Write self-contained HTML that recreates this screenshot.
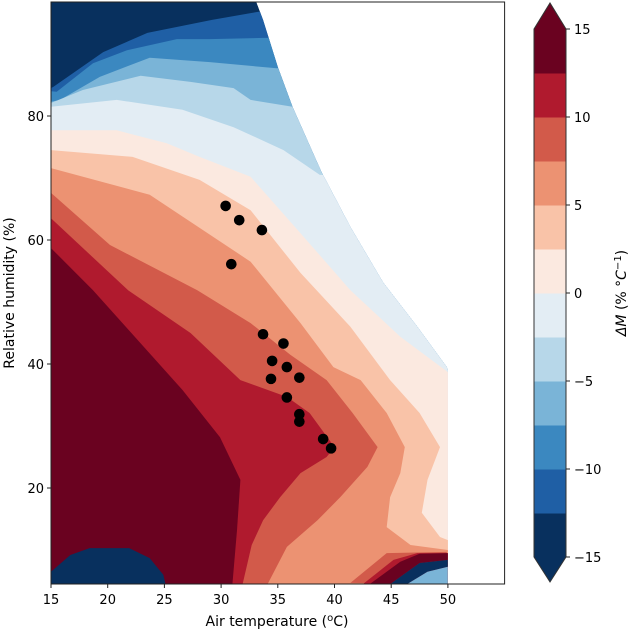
<!DOCTYPE html>
<html><head><meta charset="utf-8"><style>
html,body{margin:0;padding:0;background:#fff}
svg{display:block;font-family:"DejaVu Sans","Liberation Sans",sans-serif}
</style></head><body>
<svg id="chart" width="633" height="632" viewBox="0 0 633 632" xmlns="http://www.w3.org/2000/svg">
<defs><clipPath id="domclip"><path id="domclippath"/></clipPath></defs>
<g id="field" clip-path="url(#domclip)"></g>
<g id="extras" clip-path="url(#domclip)"></g>
<g id="dots"></g>
<rect x="51" y="2" width="453.6" height="582" fill="none" stroke="#222" stroke-width="1"/>
<g id="xaxis"></g>
<g id="yaxis"></g>
<text x="277" y="626" font-size="14" text-anchor="middle">Air temperature (<tspan baseline-shift="super" font-size="10">o</tspan>C)</text>
<text transform="translate(14,293) rotate(-90)" font-size="14" text-anchor="middle">Relative humidity (%)</text>
<g id="cbar"></g>
<text transform="translate(626,293) rotate(-90)" font-size="14" text-anchor="middle"><tspan font-style="italic">ΔM</tspan> (% °<tspan font-style="italic">C</tspan><tspan baseline-shift="super" font-size="10">−1</tspan>)</text>
</svg>
<script>
const levels = [-15,-12.5,-10,-7.5,-5,-2.5,0,2.5,5,7.5,10,12.5,15];
const levelColors = ["#08305e","#1f5fa5","#3b88c0","#7ab4d7","#b7d7e9","#e3edf4","#fbe9e0","#f9c3a8","#ec9272","#d25a4a","#b01a2e","#6a0220"];
const xTicks = [15,20,25,30,35,40,45,50];
const yTicks = [20,40,60,80];
const cbarTicks = [15,10,5,0,-5,-10,-15];
const domainEdge = [[33.1,98.4],[33.7,95.5],[35.0,87.9],[36.3,81.5],[38.5,72.4],[38.9,70.8],[41.4,62.1],[44.3,53.1],[47.3,46.0],[49.9,39.5],[50,39.0],[50,4.5],[15,4.5],[15,98.4]];
const contourM125 = [[15,84.5],[15.2,84.7],[19.6,90.3],[23.5,93.4],[29.2,95.5],[32.6,96.6],[33.3,96.8],[56,96.8]];
const contourM10 = [[15,84.0],[15.5,83.9],[18.7,88.5],[21.7,90.6],[26.1,92.4],[29.0,92.4],[33.7,92.6],[56,92.6]];
const contourM75 = [[15,82.3],[15.8,82.6],[19.3,86.3],[23.7,89.4],[29.0,88.7],[34.9,87.7],[56,87.7]];
const contourM5 = [[15,82.1],[17.8,84.2],[22.9,86.5],[27.3,85.5],[31.1,84.5],[32.6,82.6],[36.3,81.5],[56,81.5]];
const contourM25 = [[15,81.5],[20.8,82.6],[26.6,81.0],[31.1,78.2],[35.5,74.5],[38.7,70.5],[56,70.5]];
const contour0 = [[15,77.7],[20.8,77.7],[25.2,75.6],[28.1,73.4],[32.6,70.2],[37.0,61.1],[41.4,51.9],[45.8,44.4],[50,38.7],[56,38.7]];
const contour25 = [[15,74.5],[22.2,73.4],[28.1,69.7],[32.6,64.8],[37.0,54.7],[41.4,46.0],[44.9,37.4],[47.5,32.1],[49.3,26.6],[48.2,21.3],[47.7,16.0],[49.3,12.1],[50,11.6],[56,11.6]];
const contour5 = [[15,71.6],[23.7,67.3],[32.6,56.5],[37.0,46.6],[39.9,39.5],[42.3,37.4],[44.6,32.1],[46.2,26.6],[45.8,22.4],[44.9,18.5],[44.6,13.7],[46.7,10.8],[50,10.0],[56,10.0]];
const contour75 = [[15,67.6],[20.2,59.2],[27.9,51.9],[32.6,46.6],[36.1,41.5],[39.3,37.4],[41.6,32.1],[43.8,26.6],[42.9,23.4],[40.5,18.5],[38.5,14.8],[35.8,10.5],[34.1,4.5]];
const contour10 = [[15,63.5],[21.8,51.9],[27.3,45.0],[31.7,37.4],[35.8,34.7],[37.8,32.1],[40.0,26.6],[39.3,25.0],[37.0,22.4],[35.2,18.5],[33.7,14.8],[32.7,10.8],[31.9,4.5]];
const contour125 = [[15,58.7],[18.7,51.9],[26.6,35.8],[29.9,28.2],[31.7,21.3],[31.4,13.2],[31.0,4.5]];
const coldBlob = [[15,6.5],[16.7,9.2],[18.4,10.3],[21.9,10.3],[23.7,8.7],[24.9,6.0],[25.1,4.5],[15,4.5]];
const artifactOrange = [[41.4,4.7],[44.6,9.5],[49.9,9.7],[50,4.5]];
const artifactRed = [[42.5,4.5],[45.2,8.4],[47.3,9.5],[50,9.5],[50,4.5]];
const artifactDark = [[43.1,4.5],[45.8,8.1],[47.5,9.4],[50,9.5],[50,8.4],[47.5,7.9],[44.9,4.5]];
const artifactNavy = [[44.9,4.5],[47.5,7.9],[50,8.4],[50,7.3],[48.2,6.5],[46.4,4.5]];
const artifactLight = [[46.4,4.5],[48.2,6.5],[50,7.3],[50,4.5]];
const pointTemp = [30.4,31.6,33.6,30.9,33.7,35.5,34.5,35.8,34.4,36.9,35.8,36.9,36.9,39.0,39.7];
const pointRH = [65.5,63.2,61.6,56.1,44.8,43.3,40.5,39.5,37.6,37.8,34.6,31.9,30.7,27.9,26.4];

const NS = "http://www.w3.org/2000/svg";
const X0 = 51, PXX = 11.34, XMIN = 15;
const Y80 = 116, PXY = 6.2;
function sx(v){ return X0 + (v - XMIN) * PXX; }
function sy(v){ return Y80 - (v - 80) * PXY; }
function pathOf(pts, close){ return pts.map((p,i)=>(i?"L":"M")+sx(p[0]).toFixed(1)+","+sy(p[1]).toFixed(1)).join("") + (close?"Z":""); }
function mk(tag, attrs, parent){ const e=document.createElementNS(NS,tag); for(const k in attrs) e.setAttribute(k, attrs[k]); parent.appendChild(e); return e; }

document.getElementById("domclippath").setAttribute("d", pathOf(domainEdge, true));

const field = document.getElementById("field");
const base = mk("path", {d: pathOf(domainEdge, true), fill: levelColors[0]}, field);


const contours = [contourM125, contourM10, contourM75, contourM5, contourM25, contour0, contour25, contour5, contour75, contour10, contour125];
contours.forEach((c, i) => {
  const last = c[c.length-1];
  const pts = c.concat([[last[0], 4.5], [15, 4.5]]);
  const e = mk("path", {d: pathOf(pts, true), fill: levelColors[i+1]}, field);
  
  
});
const blob = mk("path", {d: pathOf(coldBlob, true), fill: levelColors[0]}, field);



const extras = document.getElementById("extras");
[[artifactOrange, levelColors[9]], [artifactRed, levelColors[10]], [artifactDark, levelColors[11]], [artifactNavy, levelColors[0]], [artifactLight, levelColors[3]]].forEach((a, i) => {
  const e = mk("path", {d: pathOf(a[0], true), fill: a[1]}, extras);
  
  
});

const dots = document.getElementById("dots");
pointTemp.forEach((t, i) => {
  const c = mk("circle", {cx: sx(t), cy: sy(pointRH[i]), r: 5.3, fill: "#000"}, dots);
  
  
});

const xa = document.getElementById("xaxis");
xTicks.forEach(t => {
  const l = mk("line", {x1: sx(t), x2: sx(t), y1: 584, y2: 588, stroke: "#222"}, xa);
  
  
  const tx = mk("text", {x: sx(t), y: 604, "font-size": 13, "text-anchor": "middle"}, xa);
  tx.textContent = t;
  
  
});
const ya = document.getElementById("yaxis");
yTicks.forEach(t => {
  const l = mk("line", {x1: 47, x2: 51, y1: sy(t), y2: sy(t), stroke: "#222"}, ya);
  
  
  const tx = mk("text", {x: 44, y: sy(t)+5, "font-size": 13, "text-anchor": "end"}, ya);
  tx.textContent = t;
  
  
});

const cb = document.getElementById("cbar");
const CX0 = 534, CX1 = 566, CTOP = 29, CBOT = 557;
function cy(v){ return CBOT - (v + 15) / 30 * (CBOT - CTOP); }
levelColors.forEach((col, i) => {
  const r = mk("rect", {x: CX0, y: cy(levels[i+1]), width: CX1-CX0, height: cy(levels[i]) - cy(levels[i+1]) + 0.5, fill: col}, cb);
  
  
});
const topTri = mk("path", {d: `M${CX0},${CTOP}L${(CX0+CX1)/2},3L${CX1},${CTOP}Z`, fill: levelColors[11]}, cb);


const botTri = mk("path", {d: `M${CX0},${CBOT}L${(CX0+CX1)/2},582L${CX1},${CBOT}Z`, fill: levelColors[0]}, cb);


const outline = mk("path", {d: `M${CX0},${CTOP}L${(CX0+CX1)/2},3L${CX1},${CTOP}L${CX1},${CBOT}L${(CX0+CX1)/2},582L${CX0},${CBOT}Z`, fill: "none", stroke: "#333", "stroke-width": 1}, cb);


cbarTicks.forEach(t => {
  const l = mk("line", {x1: CX1, x2: CX1+4, y1: cy(t), y2: cy(t), stroke: "#222"}, cb);
  
  
  const tx = mk("text", {x: CX1+8, y: cy(t)+5, "font-size": 13}, cb);
  tx.textContent = t < 0 ? "\u2212" + Math.abs(t) : String(t);
  
  
});
</script>
</body></html>
